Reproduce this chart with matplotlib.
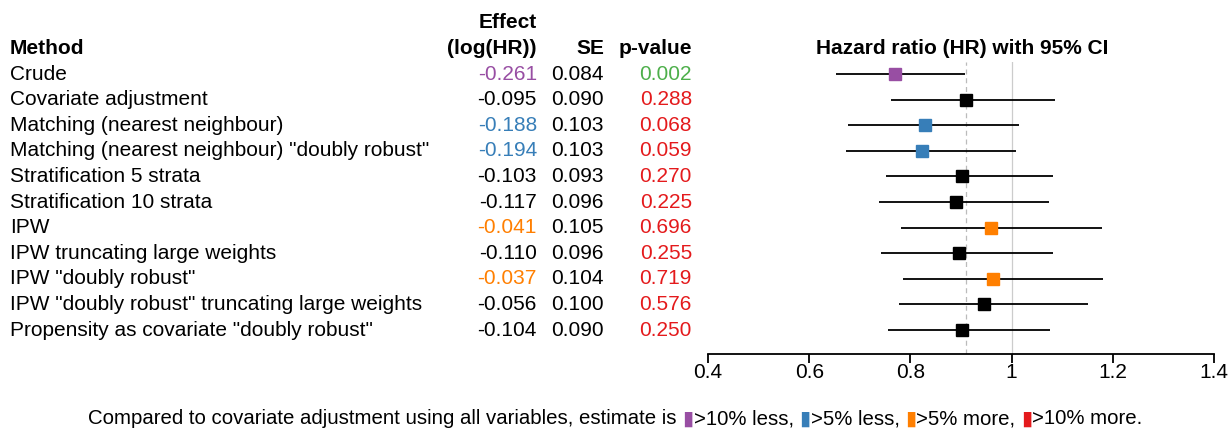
import numpy as np
import matplotlib
matplotlib.use("Agg")
import matplotlib.pyplot as plt
from matplotlib.transforms import blended_transform_factory
from matplotlib.offsetbox import TextArea, HPacker, AnchoredOffsetbox

plt.rcParams["font.family"] = ["Liberation Sans", "DejaVu Sans"]

# ---------------------------------------------------------------------------
#  data
# ---------------------------------------------------------------------------
methods = [
    "Crude",
    "Covariate adjustment",
    "Matching (nearest neighbour)",
    'Matching (nearest neighbour) "doubly robust"',
    "Stratification 5 strata",
    "Stratification 10 strata",
    "IPW",
    "IPW truncating large weights",
    'IPW "doubly robust"',
    'IPW "doubly robust" truncating large weights',
    'Propensity as covariate "doubly robust"',
]
effect = [-0.261, -0.095, -0.188, -0.194, -0.103, -0.117, -0.041, -0.110,
          -0.037, -0.056, -0.104]
se = [0.084, 0.090, 0.103, 0.103, 0.093, 0.096, 0.105, 0.096, 0.104,
      0.100, 0.090]
pvalue = [0.002, 0.288, 0.068, 0.059, 0.270, 0.225, 0.696, 0.255, 0.719,
          0.576, 0.250]
# difference vs covariate adjustment
category = ["less10", "none", "less5", "less5", "none", "none", "more5",
            "none", "more5", "none", "none"]

cat_colors = {"less10": "#984EA3", "less5": "#377EB8", "more5": "#FF7F00",
              "more10": "#E41A1C", "none": "black"}
legend_items = [("less10", ">10% less, "), ("less5", ">5% less, "),
                ("more5", ">5% more, "), ("more10", ">10% more.")]

xticks = [0.4, 0.6, 0.8, 1.0, 1.2, 1.4]
xticklabels = ["0.4", "0.6", "0.8", "1", "1.2", "1.4"]

# ---------------------------------------------------------------------------
#  figure
# ---------------------------------------------------------------------------
W, H = 1231, 428
fig = plt.figure(figsize=(W / 100, H / 100), dpi=100)

# rows at pixel y = 74 + i * 25.6 ; axes from y=62 to y=354, x 708..1214
row0, step = 74.0, 25.6
top_px, bot_px = 62.0, 354.0
ax = fig.add_axes([708 / W, (H - bot_px) / H, 506 / W, (bot_px - top_px) / H])
ax.set_xlim(0.4, 1.4)
ax.set_ylim((bot_px - row0) / step, (top_px - row0) / step)

est = np.array(effect)
s = np.array(se)
hr = np.exp(est)
lo = np.exp(est - 1.96 * s)
hi = np.exp(est + 1.96 * s)
rows = np.arange(len(methods))

ref_hr = hr[methods.index("Covariate adjustment")]
ax.axvline(ref_hr, color="#bbbbbb", ls=(0, (4, 3)), lw=0.9, zorder=1)
ax.axvline(1.0, color="#cccccc", lw=0.9, zorder=1)

for i in rows:
    c = cat_colors[category[i]]
    ax.hlines(i, lo[i], hi[i], color="black", lw=1.3, zorder=2)
    ax.plot(hr[i], i, marker="s", ms=8, color=c, mec=c, zorder=3)

for sp in ["top", "right", "left"]:
    ax.spines[sp].set_visible(False)
ax.spines["bottom"].set_linewidth(1.3)
ax.spines["bottom"].set_bounds(0.4, 1.4)
ax.set_yticks([])
ax.set_xticks(xticks)
ax.set_xticklabels(xticklabels, fontsize=15)
ax.tick_params(axis="x", length=6.5, width=1.3, pad=0)

# ---------------------------------------------------------------------------
#  text table (figure x, data y)
# ---------------------------------------------------------------------------
tr = blended_transform_factory(fig.transFigure, ax.transData)
fs = 15
x_method, x_eff, x_se, x_p = 10 / W, 537 / W, 604 / W, 692 / W

for i in rows:
    ax.text(x_method, i, methods[i], transform=tr, ha="left", va="center",
            fontsize=fs, clip_on=False)
    ax.text(x_eff, i, f"{effect[i]:.3f}", transform=tr, ha="right",
            va="center", fontsize=fs, color=cat_colors[category[i]],
            clip_on=False)
    ax.text(x_se, i, f"{se[i]:.3f}", transform=tr, ha="right", va="center",
            fontsize=fs, clip_on=False)
    pc = "#4DAF4A" if pvalue[i] < 0.05 else "#E41A1C"
    ax.text(x_p, i, f"{pvalue[i]:.3f}", transform=tr, ha="right",
            va="center", fontsize=fs, color=pc, clip_on=False)

hdr_y = (48 - row0) / step
hdr2_y = (22 - row0) / step
bold = dict(transform=tr, va="center", fontsize=fs, fontweight="bold",
            clip_on=False)
ax.text(x_method, hdr_y, "Method", ha="left", **bold)
ax.text(x_eff, hdr2_y, "Effect", ha="right", **bold)
ax.text(x_eff, hdr_y, "(log(HR))", ha="right", **bold)
ax.text(x_se, hdr_y, "SE", ha="right", **bold)
ax.text(x_p, hdr_y, "p-value", ha="right", **bold)
ax.text(962 / W, hdr_y, "Hazard ratio (HR) with 95% CI", ha="center", **bold)

# ---------------------------------------------------------------------------
#  footer legend
# ---------------------------------------------------------------------------
fs_foot = 14.7
parts = [TextArea("Compared to covariate adjustment using all variables, "
                  "estimate is ", textprops=dict(fontsize=fs_foot))]
for key, label in legend_items:
    parts.append(TextArea("\u25AE", textprops=dict(
        fontsize=fs_foot, color=cat_colors[key],
        family=["DejaVu Sans"])))
    parts.append(TextArea(label, textprops=dict(fontsize=fs_foot)))
box = HPacker(children=parts, align="baseline", pad=0, sep=0)
anchored = AnchoredOffsetbox(loc="center", child=box, frameon=False,
                             bbox_to_anchor=(0.5, (H - 419) / H),
                             bbox_transform=fig.transFigure, pad=0,
                             borderpad=0)
fig.add_artist(anchored)

fig.savefig("out.png", dpi=100)
